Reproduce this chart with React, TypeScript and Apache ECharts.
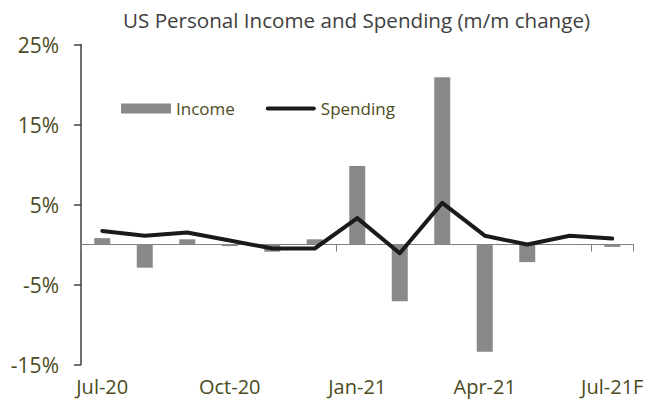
import React, { useEffect, useRef } from "react";
import * as echarts from "echarts";

const categories = [
  "Jul-20", "Aug-20", "Sep-20", "Oct-20", "Nov-20", "Dec-20",
  "Jan-21", "Feb-21", "Mar-21", "Apr-21", "May-21", "Jun-21", "Jul-21F",
];
const incomeValues = [0.8, -2.9, 0.65, -0.2, -0.9, 0.65, 9.8, -7.1, 20.9, -13.4, -2.2, 0.05, -0.3];
const spendingValues = [1.7, 1.1, 1.5, 0.5, -0.5, -0.5, 3.3, -1.1, 5.2, 1.1, 0.0, 1.1, 0.75];
const yTickValues = [-15, -5, 5, 15, 25];
const titleText = "US Personal Income and Spending (m/m change)";

const FONT = "'Open Sans', 'Noto Sans', sans-serif";
const OLIVE = "#4b4b22";
const LINE_ICON = "path://M2,0 L48,0 A2,2 0 0 1 48,4 L2,4 A2,2 0 0 1 2,0 Z";

export default function App() {
  const ref = useRef<HTMLDivElement>(null);
  useEffect(() => {
    if (!ref.current) return;
    const chart = echarts.init(ref.current, undefined, { renderer: "svg" });
    chart.setOption({
      animation: false,
      backgroundColor: "#ffffff",
      title: {
        text: titleText,
        left: 123,
        top: 9,
        padding: 0,
        textStyle: { fontFamily: FONT, fontSize: 20.6, fontWeight: "normal", color: "#404040" },
      },
      legend: {
        left: 116,
        top: 95,
        itemWidth: 50,
        itemHeight: 10,
        itemGap: 31,
        symbolKeepAspect: true,
        textStyle: { fontFamily: FONT, fontSize: 17, color: OLIVE },
        data: [
          { name: "Income", icon: "rect" },
          { name: "Spending", icon: LINE_ICON, itemStyle: { color: "#1a1a1a" } },
        ],
      },
      grid: { left: 81, right: 13.5, top: 44.5, bottom: 37.5, containLabel: false },
      xAxis: [
        {
          type: "category",
          data: categories,
          position: "bottom",
          axisLine: { onZero: true, lineStyle: { color: "#7f7f7f", width: 1 } },
          axisTick: { show: true, interval: 5, length: 7, lineStyle: { color: "#7f7f7f" } },
          axisLabel: { show: false },
        },
        {
          type: "category",
          data: categories,
          position: "bottom",
          axisLine: { show: false, onZero: false },
          axisTick: { show: false },
          axisLabel: {
            interval: 2,
            margin: 12,
            fontFamily: FONT,
            fontSize: 20,
            color: OLIVE,
          },
        },
      ],
      yAxis: {
        type: "value",
        min: -15,
        max: 25,
        interval: 5,
        splitLine: { show: false },
        axisLine: { show: true, lineStyle: { color: "#404040", width: 1.5 } },
        axisTick: { show: true, length: 7, customValues: yTickValues, lineStyle: { color: "#404040", width: 1.5 } },
        axisLabel: {
          customValues: yTickValues,
          margin: 22,
          fontFamily: FONT,
          fontSize: 21,
          color: OLIVE,
          formatter: (v: number) => `${v}%`,
        },
      },
      series: [
        {
          name: "Income",
          type: "bar",
          xAxisIndex: 0,
          data: incomeValues,
          barWidth: 16,
          itemStyle: { color: "#898989" },
        },
        {
          name: "Spending",
          type: "line",
          xAxisIndex: 0,
          data: spendingValues,
          symbol: "none",
          lineStyle: { color: "#1a1a1a", width: 4, cap: "round", join: "round" },
          itemStyle: { color: "#1a1a1a" },
        },
      ],
    });
    return () => chart.dispose();
  }, []);
  return (
    <div
      ref={ref}
      style={{ position: "fixed", left: 0, top: 0, width: 647, height: 402, background: "#fff" }}
    />
  );
}
